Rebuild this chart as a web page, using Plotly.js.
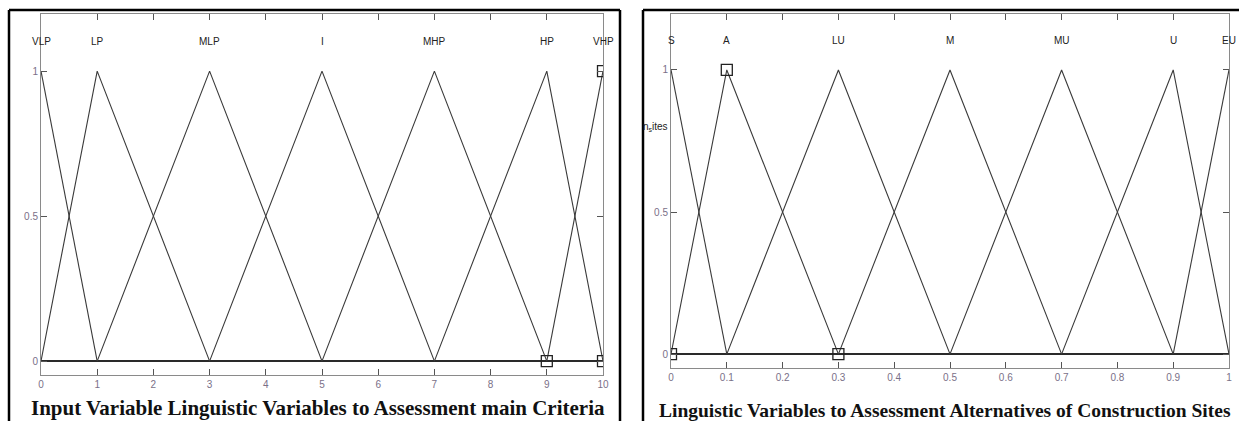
<!DOCTYPE html>
<html>
<head>
<meta charset="utf-8">
<script src="https://cdn.plot.ly/plotly-3.0.1.min.js"></script>
<style>
  html, body { margin: 0; padding: 0; background: #fff; }
  #chart { width: 1239px; height: 421px; }
</style>
</head>
<body>
<div id="chart"></div>
<script>
// left chart: criteria membership functions (0..10)
var leftNames = ['VLP', 'LP', 'MLP', 'I', 'MHP', 'HP', 'VHP'];
var leftX = [[0, 1], [0, 1, 3], [1, 3, 5], [3, 5, 7], [5, 7, 9], [7, 9, 10], [9, 10]];
var leftY = [[1, 0], [0, 1, 0], [0, 1, 0], [0, 1, 0], [0, 1, 0], [0, 1, 0], [0, 1]];
var leftPeaks = [0, 1, 3, 5, 7, 9, 10];
var leftMarkX = [9, 10, 10];
var leftMarkY = [0, 0, 1];

// right chart: alternatives membership functions (0..1)
var rightNames = ['S', 'A', 'LU', 'M', 'MU', 'U', 'EU'];
var rightX = [[0, 0.1], [0, 0.1, 0.3], [0.1, 0.3, 0.5], [0.3, 0.5, 0.7], [0.5, 0.7, 0.9], [0.7, 0.9, 1], [0.9, 1]];
var rightY = [[1, 0], [0, 1, 0], [0, 1, 0], [0, 1, 0], [0, 1, 0], [0, 1, 0], [0, 1]];
var rightPeaks = [0, 0.1, 0.3, 0.5, 0.7, 0.9, 1];
var rightMarkX = [0.1, 0.3, 0];
var rightMarkY = [1, 0, 0];

var leftCaption = 'Input Variable Linguistic Variables to Assessment main Criteria';
var rightCaption = 'Linguistic Variables to Assessment Alternatives of Construction Sites';

var W = 1239, H = 421;
function px(x) { return x / W; }
function py(y) { return (H - y) / H; }

var lineColor = '#3a3a3a';
var tickFont = { family: 'Arial, Liberation Sans, sans-serif', size: 10, color: '#7a7088' };
var labelFont = { family: 'Arial, Liberation Sans, sans-serif', size: 10, color: '#222' };

var data = [];
var annotations = [];

function addPanel(names, xs, ys, peaks, mx, my, xa, ya) {
  for (var i = 0; i < names.length; i++) {
    data.push({
      x: xs[i], y: ys[i], type: 'scatter', mode: 'lines',
      xaxis: xa, yaxis: ya,
      line: { color: lineColor, width: 1.1 },
      hoverinfo: 'skip', showlegend: false
    });
    annotations.push({
      x: peaks[i], y: 1.103, xref: xa, yref: ya, xanchor: 'center',
      text: names[i], showarrow: false, font: labelFont
    });
  }
  data.push({
    x: mx, y: my, type: 'scatter', mode: 'markers',
    xaxis: xa, yaxis: ya,
    marker: { symbol: 'square-open', size: 11, color: '#222', line: { width: 1.3 } },
    hoverinfo: 'skip', showlegend: false
  });
}

addPanel(leftNames, leftX, leftY, leftPeaks, leftMarkX, leftMarkY, 'x', 'y');
addPanel(rightNames, rightX, rightY, rightPeaks, rightMarkX, rightMarkY, 'x2', 'y2');

var captionFamily = 'Times New Roman, Liberation Serif, serif';
annotations.push({
  x: px(318), y: py(408), xref: 'paper', yref: 'paper', xanchor: 'center', yanchor: 'middle',
  text: '<b>' + leftCaption + '</b>', showarrow: false,
  font: { family: captionFamily, size: 21, color: '#111' }
});
annotations.push({
  x: px(945), y: py(410), xref: 'paper', yref: 'paper', xanchor: 'center', yanchor: 'middle',
  text: '<b>' + rightCaption + '</b>', showarrow: false,
  font: { family: captionFamily, size: 19.5, color: '#111' }
});
annotations.push({
  x: px(670), y: py(119), xref: 'paper', yref: 'paper', xanchor: 'right',
  text: 'n<sub>s</sub>ites', showarrow: false,
  font: { family: 'Arial, Liberation Sans, sans-serif', size: 10, color: '#222' }
});

function xAxis(domain, range, dtick, anchor) {
  return {
    domain: domain, range: range, anchor: anchor,
    tick0: 0, dtick: dtick,
    showline: true, linecolor: '#8a8a8a', linewidth: 1, mirror: 'ticks',
    ticks: 'inside', ticklen: 6, tickcolor: '#555',
    showgrid: false, zeroline: false, tickfont: tickFont, fixedrange: true
  };
}
function yAxis(domain, range, anchor) {
  return {
    domain: domain, range: range, anchor: anchor,
    tickvals: [0, 0.5, 1], ticktext: ['0', '0.5', '1'],
    showline: true, linecolor: '#8a8a8a', linewidth: 1, mirror: 'ticks',
    ticks: 'inside', ticklen: 6, tickcolor: '#555',
    showgrid: false, zeroline: true, zerolinecolor: '#2a2a2a', zerolinewidth: 1.3,
    tickfont: tickFont, fixedrange: true
  };
}

var borderLine = { color: '#000', width: 2.5 };
var shapes = [
  { type: 'line', xref: 'paper', yref: 'paper', x0: px(9), x1: px(9), y0: 0, y1: py(10), line: borderLine },
  { type: 'line', xref: 'paper', yref: 'paper', x0: px(9), x1: px(620), y0: py(10), y1: py(10), line: borderLine },
  { type: 'line', xref: 'paper', yref: 'paper', x0: px(620), x1: px(620), y0: 0, y1: py(10), line: borderLine },
  { type: 'line', xref: 'paper', yref: 'paper', x0: px(643), x1: px(643), y0: 0, y1: py(10), line: borderLine },
  { type: 'line', xref: 'paper', yref: 'paper', x0: px(643), x1: 1, y0: py(10), y1: py(10), line: borderLine }
];

var layout = {
  width: W, height: H,
  margin: { l: 0, r: 0, t: 0, b: 0 },
  paper_bgcolor: '#fff', plot_bgcolor: '#fff',
  showlegend: false,
  xaxis: xAxis([px(41), px(603)], [0, 10], 1, 'y'),
  yaxis: yAxis([py(375), py(14)], [-0.048, 1.197], 'x'),
  xaxis2: xAxis([px(671), px(1229)], [0, 1], 0.1, 'y2'),
  yaxis2: yAxis([py(368), py(14)], [-0.049, 1.197], 'x2'),
  annotations: annotations,
  shapes: shapes
};

Plotly.newPlot('chart', data, layout, { displayModeBar: false, staticPlot: true });
</script>
</body>
</html>
